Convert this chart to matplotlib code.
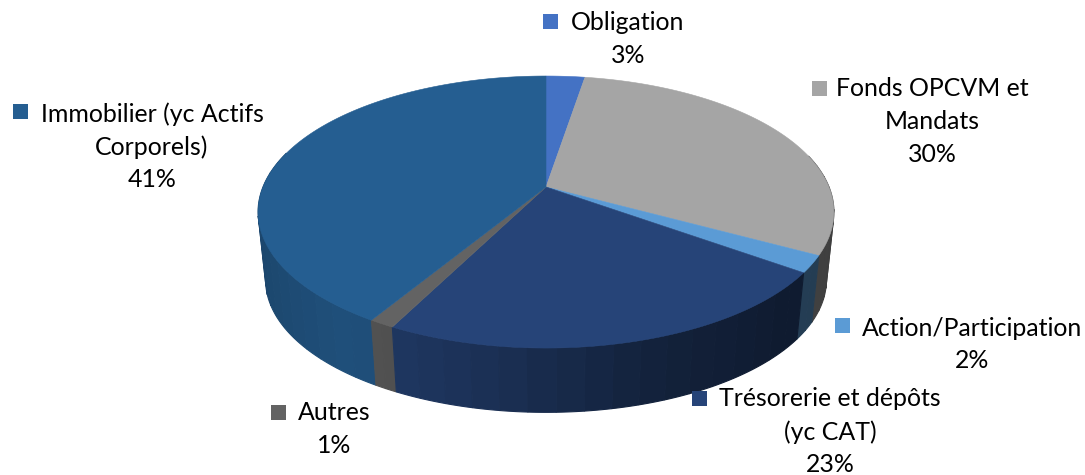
import matplotlib
matplotlib.use('Agg')
import matplotlib.pyplot as plt
import numpy as np

# clockwise from 12 o'clock
names = ['Obligation', 'Fonds OPCVM et Mandats', 'Action/Participation',
         'Trésorerie et dépôts (yc CAT)', 'Autres', 'Immobilier (yc Actifs Corporels)']
values = [2.6, 30.3, 2.0, 22.6, 1.2, 41.3]
pct_labels = ['3%', '30%', '2%', '23%', '1%', '41%']
colors = ['#4472C4', '#A5A5A5', '#5B9BD5', '#264478', '#636363', '#255E91']

# label lines, centre x of text, y of the first line, marker left x, marker centre y
label_lines = [['Obligation', '3%'],
               ['Fonds OPCVM et', 'Mandats', '30%'],
               ['Action/Participation', '2%'],
               ['Trésorerie et dépôts', '(yc CAT)', '23%'],
               ['Autres', '1%'],
               ['Immobilier (yc Actifs', 'Corporels)', '41%']]
label_x = [628, 932, 972, 830, 334, 152]
label_y = [23, 89, 328, 399, 413, 114]
marker_x = [543, 812, 835, 692, 271, 13]
marker_y = [21, 88, 325, 398, 412, 111]
line_h = 32.8

# perspective of the pie, in pixels
cx, cy = 546, 187
R, S, k = 283, 131.4, 0.184


def top(t):
    u, v = np.sin(t), np.cos(t)
    w = 1 + k * v
    return cx + R * u / w, cy - S * v / w


def bottom(t):
    x, y = top(t)
    return cx + 0.974 * (x - cx), cy + 68.5 + 0.974 * (y - cy)


def shade(u):
    return np.interp(u, [-1, -0.6, -0.2, 0.3, 0.75, 1], [0.74, 0.85, 0.72, 0.5, 0.4, 0.38])


fig = plt.figure(figsize=(10.85, 4.75), dpi=100)
ax = fig.add_axes([0, 0, 1, 1])
ax.set_xlim(0, 1085)
ax.set_ylim(475, 0)
ax.axis('off')

edges = np.cumsum([0] + values) / np.sum(values) * 2 * np.pi

# side wall, far strips first
strips = []
for i in range(len(values)):
    ts = np.linspace(edges[i], edges[i + 1], max(3, int(values[i] * 0.8)))
    for a, b in zip(ts[:-1], ts[1:]):
        m = (a + b) / 2
        if np.cos(m) < 0.25:
            strips.append((np.cos(m), a, b, i))
strips.sort(key=lambda s: -s[0])
for c, a, b, i in strips:
    tt = np.linspace(a, b, 12)
    x1, y1 = top(tt)
    x2, y2 = bottom(tt)
    base = np.array(matplotlib.colors.to_rgb(colors[i]))
    col = base * shade(np.sin((a + b) / 2))
    ax.fill(np.r_[x1, x2[::-1]], np.r_[y1, y2[::-1]], color=col, lw=0.8, zorder=2)

# top face
for i in range(len(values)):
    tt = np.linspace(edges[i], edges[i + 1], 200)
    x, y = top(tt)
    ax.fill(np.r_[cx, x], np.r_[cy, y], color=colors[i], lw=0.4, zorder=3)

# labels
for i in range(len(names)):
    ax.add_patch(plt.Rectangle((marker_x[i], marker_y[i] - 7.5), 15, 15, color=colors[i], lw=0, zorder=4))
    for j, line in enumerate(label_lines[i]):
        ax.text(label_x[i], label_y[i] + j * line_h, line, ha='center', va='center',
                fontsize=17.9, family='Lato', color='black', zorder=5)

fig.savefig('out.png', dpi=100)
